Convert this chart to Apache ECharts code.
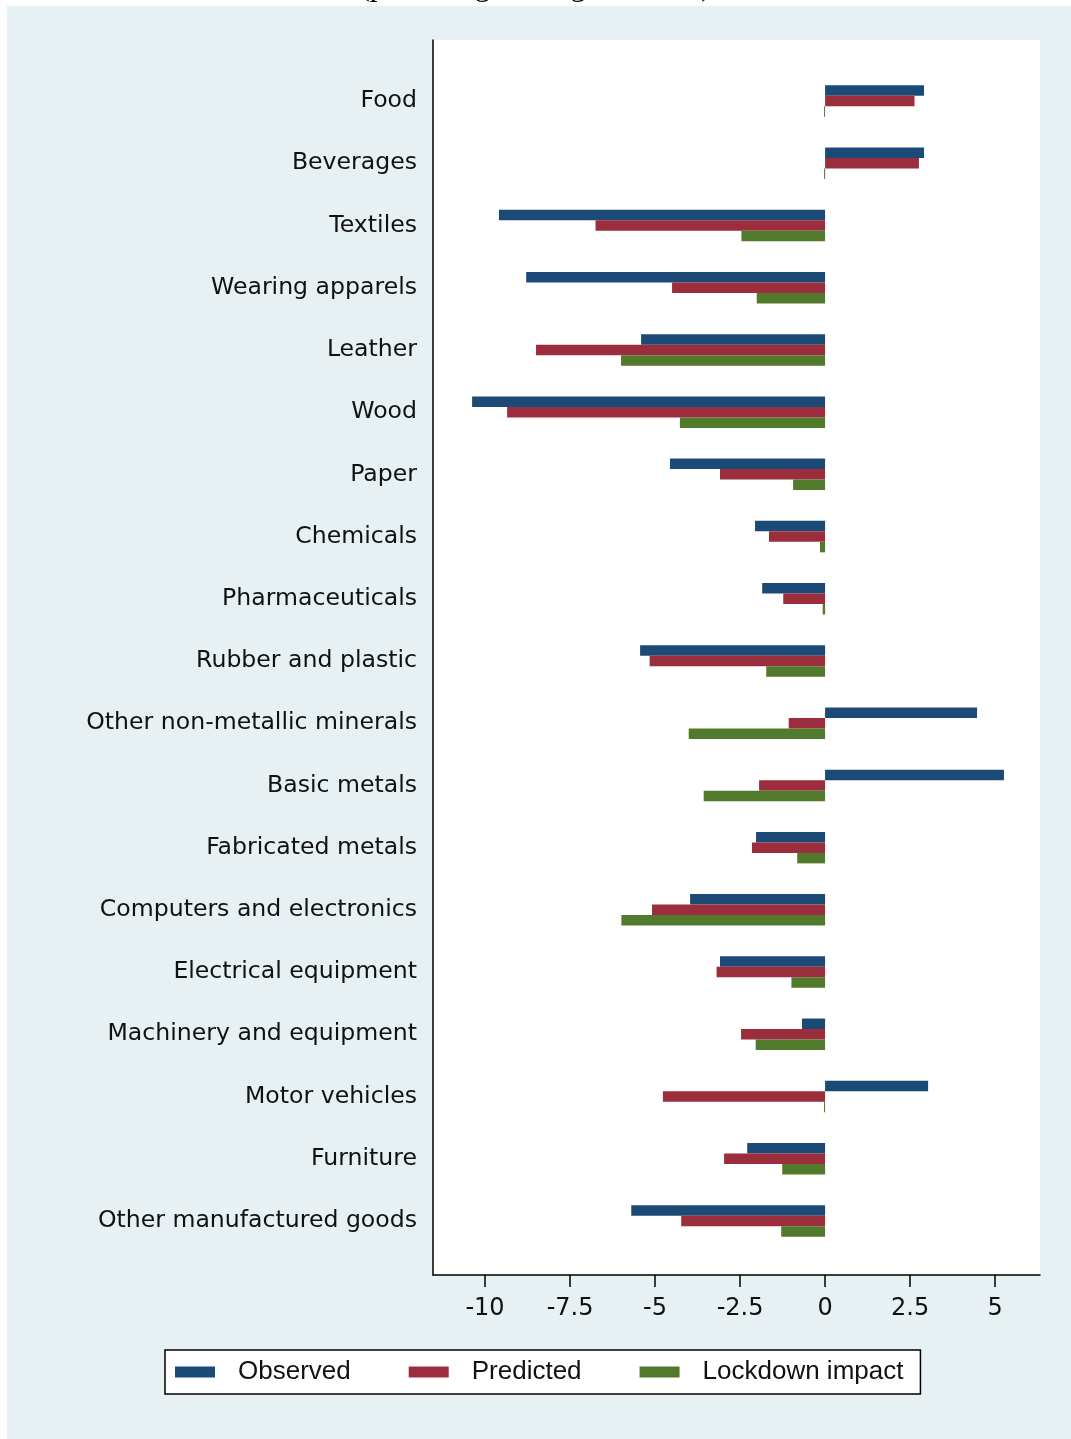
<!DOCTYPE html>
<html>
<head>
<meta charset="utf-8">
<title>Manufacturing output by sector</title>
<script src="https://cdn.jsdelivr.net/npm/echarts@6/dist/echarts.min.js"></script>
<style>
  html, body { margin: 0; padding: 0; background: #ffffff; }
  #backdrop { position: absolute; left: 7px; top: 6px; right: 0; bottom: 0; background: #e7f0f3; }
  #chart { position: absolute; left: 0; top: 0; width: 1071px; height: 1439px; }
</style>
</head>
<body>
<div id="backdrop"></div>
<div id="chart"></div>
<script>
// Sectors, top to bottom
const categories = [
  'Food', 'Beverages', 'Textiles', 'Wearing apparels', 'Leather', 'Wood',
  'Paper', 'Chemicals', 'Pharmaceuticals', 'Rubber and plastic',
  'Other non-metallic minerals', 'Basic metals', 'Fabricated metals',
  'Computers and electronics', 'Electrical equipment', 'Machinery and equipment',
  'Motor vehicles', 'Furniture', 'Other manufactured goods'
];

// Percentage changes per sector
const observed = [2.91, 2.91, -9.59, -8.79, -5.41, -10.38, -4.56, -2.06, -1.85, -5.44,
  4.47, 5.26, -2.03, -3.97, -3.09, -0.68, 3.03, -2.29, -5.70];
const predicted = [2.63, 2.76, -6.75, -4.50, -8.50, -9.35, -3.09, -1.65, -1.23, -5.16,
  -1.07, -1.94, -2.15, -5.09, -3.19, -2.47, -4.77, -2.97, -4.23];
const lockdownImpact = [-0.03, -0.03, -2.46, -2.01, -6.00, -4.27, -0.94, -0.15, -0.07, -1.73,
  -4.01, -3.57, -0.82, -5.99, -0.99, -2.04, -0.03, -1.26, -1.29];

// Value axis tick positions and range
const tickValues = [-10, -7.5, -5, -2.5, 0, 2.5, 5];
const axisMin = -11.53;
const axisMax = 6.32;

const FONT = '"Liberation Sans", Arial, Helvetica, sans-serif';
const WIDE_FONT = '"DejaVu Sans", Verdana, sans-serif';
const colors = { observed: '#1c4a77', predicted: '#9c2d3c', lockdown: '#527a2c' };

const chart = echarts.init(document.getElementById('chart'), null, { renderer: 'canvas' });

function barSeries(name, data, color) {
  return {
    name: name,
    type: 'bar',
    xAxisIndex: 0,
    yAxisIndex: 0,
    data: data,
    barWidth: 10.5,
    barGap: '0%',
    itemStyle: { color: color },
    emphasis: { disabled: true },
    animation: false
  };
}

chart.setOption({
  backgroundColor: 'transparent',
  animation: false,
  title: {
    text: '(percentage change in 2020)',
    left: 'center',
    top: -29,
    padding: 0,
    textStyle: {
      fontFamily: '"Liberation Serif", "Times New Roman", serif',
      fontWeight: 'normal',
      fontSize: 31,
      lineHeight: 32,
      color: '#000'
    }
  },
  legend: {
    data: ['Observed', 'Predicted', 'Lockdown impact'],
    left: 165,
    top: 1350,
    orient: 'horizontal',
    itemWidth: 40,
    itemHeight: 11,
    itemGap: 58,
    icon: 'rect',
    padding: [9, 17, 9, 10],
    backgroundColor: '#ffffff',
    borderColor: '#000000',
    borderWidth: 1.5,
    borderRadius: 0,
    selectedMode: false,
    textStyle: {
      fontFamily: FONT,
      fontSize: 26,
      color: '#111',
      padding: [0, 0, 0, 18]
    }
  },
  grid: [
    // bars
    { left: 433, right: 31, top: 70, height: 1182, containLabel: false },
    // plot frame and value axis
    { left: 433, right: 31, top: 40, bottom: 164, show: true, backgroundColor: '#ffffff', borderWidth: 0, z: 0 }
  ],
  xAxis: [
    {
      type: 'value', gridIndex: 0, min: axisMin, max: axisMax,
      show: false, splitLine: { show: false }
    },
    {
      type: 'value', gridIndex: 1, min: axisMin, max: axisMax,
      position: 'bottom',
      axisLine: { show: true, onZero: false, lineStyle: { color: '#000', width: 1.5 } },
      axisTick: { show: true, length: 12, customValues: tickValues, lineStyle: { color: '#000', width: 1.5 } },
      axisLabel: {
        show: true, customValues: tickValues, margin: 22,
        fontFamily: WIDE_FONT, fontSize: 24, color: '#111',
        showMinLabel: true, showMaxLabel: true
      },
      splitLine: { show: false }
    }
  ],
  yAxis: [
    {
      type: 'category', gridIndex: 0, data: categories, inverse: true,
      axisLine: { show: false },
      axisTick: { show: false },
      axisLabel: { fontFamily: WIDE_FONT, fontSize: 23.6, color: '#111', margin: 16 },
      splitLine: { show: false }
    },
    {
      type: 'value', gridIndex: 1, min: 0, max: 1,
      axisLine: { show: true, onZero: false, lineStyle: { color: '#000', width: 1.5 } },
      axisTick: { show: false },
      axisLabel: { show: false },
      splitLine: { show: false }
    }
  ],
  series: [
    barSeries('Observed', observed, colors.observed),
    barSeries('Predicted', predicted, colors.predicted),
    barSeries('Lockdown impact', lockdownImpact, colors.lockdown)
  ]
});
</script>
</body>
</html>
